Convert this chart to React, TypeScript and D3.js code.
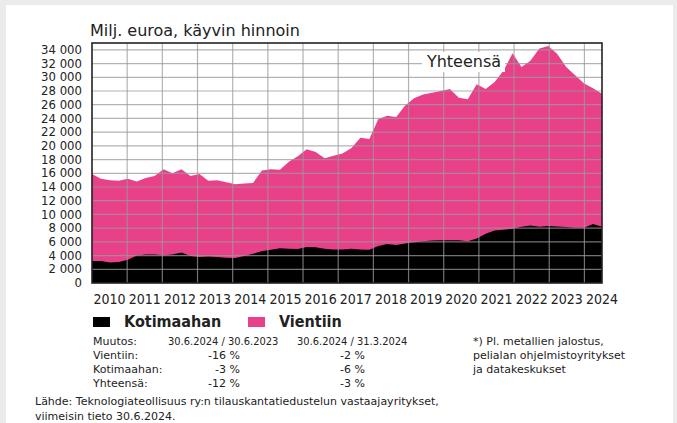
import React, { useEffect, useRef } from "react";
import * as d3 from "d3";

// quarterly order backlog, 2010 Q1 .. 2024 Q2 (milj. euroa)
const years = d3.range(2010, 2025);
const quarters = years.flatMap((y) => [1, 2, 3, 4].map((q) => `${y}Q${q}`)).slice(0, 58);

const yhteensa = [
  15900, 15200, 15000, 14900, 15200, 14800, 15300, 15600, 16600, 16000,
  16600, 15600, 15900, 14900, 15000, 14700, 14400, 14500, 14600, 16400,
  16600, 16500, 17700, 18500, 19500, 19100, 18200, 18550, 18900, 19700,
  21200, 21000, 23900, 24400, 24200, 25900, 26950, 27500, 27750, 28000,
  28300, 27000, 26800, 29000, 28300, 29300, 31000, 33500, 31500, 32400,
  34200, 34550, 33400, 31500, 30300, 29100, 28400, 27600,
];

const kotimaahan = [
  3200, 3220, 3000, 3050, 3400, 4000, 4150, 4150, 4050, 4150,
  4450, 3950, 3800, 3850, 3800, 3700, 3650, 3950, 4250, 4650,
  4850, 5050, 5000, 4950, 5250, 5200, 5000, 4900, 4900, 5000,
  4900, 4850, 5400, 5700, 5550, 5750, 5950, 6100, 6200, 6250,
  6250, 6250, 6100, 6500, 7200, 7650, 7750, 7900, 8200, 8400,
  8200, 8300, 8250, 8150, 8050, 8050, 8600, 8200,
];

const yTicks = d3.range(0, 34001, 2000);
const legendItems = ["Kotimaahan", "Vientiin"];
const changeHeader = ["Muutos:", "30.6.2024 / 30.6.2023", "30.6.2024 / 31.3.2024"];
const changeRows = ["Vientiin:", "Kotimaahan:", "Yhteensä:"];
const changeYear = ["-16 %", "-3 %", "-12 %"];
const changeQuarter = ["-2 %", "-6 %", "-3 %"];
const footnote = ["*) Pl. metallien jalostus,", "pelialan ohjelmistoyritykset", "ja datakeskukset"];
const source = [
  "Lähde: Teknologiateollisuus ry:n tilauskantatiedustelun vastaajayritykset,",
  "viimeisin tieto 30.6.2024.",
];

const PINK = "#e8418a";
const COND = "'DejaVu Sans Condensed', 'Liberation Sans Narrow', 'DejaVu Sans', sans-serif";
const SANS = "'DejaVu Sans', sans-serif";

const App = () => {
  const svgRef = useRef<SVGSVGElement>(null);

  useEffect(() => {
    const width = 677;
    const height = 423;
    const left = 92;
    const right = 602;
    const top = 43;
    const bottom = 283;

    const svg = d3.select(svgRef.current);
    svg.selectAll("*").remove();
    svg.attr("width", width).attr("height", height);

    // page background + white panel
    svg.append("rect").attr("width", width).attr("height", height).attr("fill", "#ebebeb");
    svg.append("rect").attr("x", 6).attr("y", 5).attr("width", 667).attr("height", 430).attr("fill", "white");

    const xYear = d3.scaleLinear().domain([2010, 2024.5]).range([left, right]);
    const x = d3.scaleLinear().domain([0, quarters.length - 1]).range([left, right]);
    const y = d3.scaleLinear().domain([0, 35000]).range([bottom, top]);

    const area = (vals: number[]) =>
      d3
        .area<number>()
        .x((_, i) => x(i))
        .y0(y(0))
        .y1((d) => y(d))(vals);

    svg.append("path").attr("d", area(yhteensa)).attr("fill", PINK);
    svg.append("path").attr("d", area(kotimaahan)).attr("fill", "black");

    const grid = svg.append("g").attr("stroke", "#9a9a9a").attr("stroke-opacity", 0.75).attr("stroke-width", 1.2);
    grid
      .selectAll("line.h")
      .data(yTicks.slice(1))
      .enter()
      .append("line")
      .attr("x1", left)
      .attr("x2", right)
      .attr("y1", (d) => y(d))
      .attr("y2", (d) => y(d));
    grid
      .selectAll("line.v")
      .data(years.slice(1))
      .enter()
      .append("line")
      .attr("x1", (d) => xYear(d))
      .attr("x2", (d) => xYear(d))
      .attr("y1", top)
      .attr("y2", bottom);

    // "Yhteensä" label sits on a white patch over the grid
    svg.append("rect").attr("x", 422).attr("y", 52).attr("width", 83).attr("height", 20).attr("fill", "white");
    svg
      .append("text")
      .attr("x", 464)
      .attr("y", 67)
      .attr("text-anchor", "middle")
      .style("font-family", SANS)
      .style("font-size", "16px")
      .attr("fill", "#222")
      .text("Yhteensä");

    svg
      .append("rect")
      .attr("x", left)
      .attr("y", top)
      .attr("width", right - left)
      .attr("height", bottom - top)
      .attr("fill", "none")
      .attr("stroke", "#222")
      .attr("stroke-width", 1.6);

    const fmt = d3.formatLocale({ thousands: " ", grouping: [3], decimal: ",", currency: ["", ""] }).format(",");
    svg
      .append("g")
      .selectAll("text")
      .data(yTicks)
      .enter()
      .append("text")
      .attr("x", 82)
      .attr("y", (d) => y(d))
      .attr("dy", "0.36em")
      .attr("text-anchor", "end")
      .style("font-family", SANS)
      .style("font-size", "11.7px")
      .attr("fill", "#222")
      .text((d) => fmt(d));

    svg
      .append("g")
      .selectAll("text")
      .data(years)
      .enter()
      .append("text")
      .attr("x", (d) => xYear(d + 0.5))
      .attr("y", 304)
      .attr("text-anchor", "middle")
      .style("font-family", COND)
      .style("font-size", "14px")
      .attr("fill", "#222")
      .text((d) => d);

    svg
      .append("text")
      .attr("x", 90)
      .attr("y", 36)
      .style("font-family", SANS)
      .style("font-size", "16px")
      .attr("fill", "#222")
      .text("Milj. euroa, käyvin hinnoin");

    // legend
    const legendX = [93, 248];
    const legendColors = ["black", PINK];
    legendItems.forEach((name, i) => {
      svg.append("rect").attr("x", legendX[i]).attr("y", 317).attr("width", 17).attr("height", 10).attr("fill", legendColors[i]);
      svg
        .append("text")
        .attr("x", legendX[i] + 31)
        .attr("y", 327)
        .style("font-family", COND)
        .style("font-weight", "bold")
        .style("font-size", "16px")
        .attr("fill", "#222")
        .text(name);
    });

    // change table
    const small = (tx: number, ty: number, s: string, anchor = "start", family = SANS) =>
      svg
        .append("text")
        .attr("x", tx)
        .attr("y", ty)
        .attr("text-anchor", anchor)
        .style("font-family", family)
        .style("font-size", "11px")
        .attr("fill", "#222")
        .text(s);

    small(93, 345, changeHeader[0]);
    small(168, 345, changeHeader[1], "start", COND);
    small(297, 345, changeHeader[2], "start", COND);
    changeRows.forEach((r, i) => {
      const ty = 359 + i * 14;
      small(93, ty, r);
      small(240, ty, changeYear[i], "end");
      small(365, ty, changeQuarter[i], "end");
    });
    footnote.forEach((s, i) => small(473, 345 + i * 14, s));
    source.forEach((s, i) => small(35, 405 + i * 15, s));
  }, []);

  return (
    <div style={{ position: "absolute", left: 0, top: 0 }}>
      <svg ref={svgRef}></svg>
    </div>
  );
};

export default App;
